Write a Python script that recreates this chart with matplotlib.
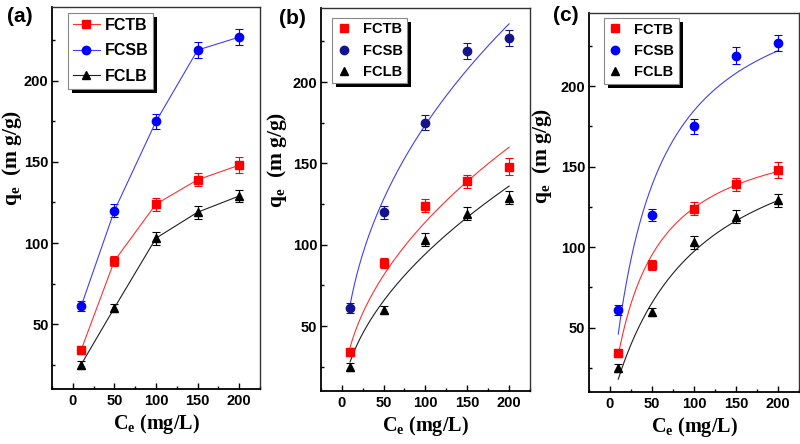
import numpy as np
import matplotlib
matplotlib.use("Agg")
import matplotlib.pyplot as plt
from matplotlib.patches import Rectangle
from matplotlib.transforms import IdentityTransform
from matplotlib.ticker import MultipleLocator

plt.rcParams['mathtext.fontset'] = 'custom'
plt.rcParams['mathtext.rm'] = 'Liberation Serif:bold'
plt.rcParams['mathtext.bf'] = 'Liberation Serif:bold'
plt.rcParams['mathtext.it'] = 'Liberation Serif:bold'

# ---- data ----
ce = [10, 50, 100, 150, 200]
series_names = ["FCTB", "FCSB", "FCLB"]
fctb = [34, 89, 124, 139, 148]
fcsb = [61, 120, 175, 219, 227]
fclb = [25, 60, 103, 119, 129]
fctb_err = [2.5, 3, 4, 4, 5]
fcsb_err = [3, 4, 4.5, 5, 5]
fclb_err = [2.5, 2.5, 4, 4, 4]

# Freundlich fit parameters (panel b): q = KF * C^(1/n)
freundlich_kf = [12.0, 22.8, 8.31]
freundlich_inv_n = [0.4888, 0.4409, 0.5276]
# Langmuir fit parameters (panel c): q = qm*KL*C/(1+KL*C)
langmuir_qm = [179.7, 278.0, 191.0]
langmuir_kl = [0.0225, 0.01983, 0.0104]

x_ticks = [0, 50, 100, 150, 200]
y_ticks = [50, 100, 150, 200]
panel_labels = ["(a)", "(b)", "(c)"]

values = [fctb, fcsb, fclb]
errors = [fctb_err, fcsb_err, fclb_err]
markers = ['s', 'o', '^']
msizes = [5.2, 6.0, 6.2]
mcolors_a = ['#ff0000', '#0000ff', '#000000']
mcolors_b = ['#ff0000', '#14148c', '#000000']
mcolors_c = ['#ff0000', '#0000ff', '#000000']
lcolors = ['#ff3030', '#4040ee', '#202020']

fig = plt.figure(figsize=(8, 4.44), dpi=100)
positions = [
    [0.065, 0.124, 0.260, 0.860],
    [0.401, 0.119, 0.2615, 0.863],
    [0.736, 0.117, 0.263, 0.854],
]
legend_anchor = [(0.077, 0.984), (0.053, 0.974), (0.071, 0.986)]
legend_fs = [11.5, 10.5, 10.5]
ylabel_coords = [(-0.19, 0.605), (-0.207, 0.603), (-0.222, 0.622)]
label_pos = [(0.025, 0.962), (0.365, 0.959), (0.707, 0.966)]

axes = []
legends = []
xfit = np.linspace(10, 200, 300)
for i in range(3):
    ax = fig.add_axes(positions[i])
    axes.append(ax)
    mcols = [mcolors_a, mcolors_b, mcolors_c][i]
    handles = []
    for j in range(3):
        ax.errorbar(ce, values[j], yerr=errors[j], fmt='none', ecolor=mcols[j],
                    elinewidth=0.8, capsize=3, capthick=0.8, zorder=3)
        if i == 0:
            h, = ax.plot(ce, values[j], marker=markers[j], color=lcolors[j],
                         mfc=mcols[j], mec=mcols[j], ms=msizes[j], lw=0.8,
                         label=series_names[j], zorder=4)
        else:
            h, = ax.plot(ce, values[j], marker=markers[j], ls='none',
                         mfc=mcols[j], mec=mcols[j], ms=msizes[j],
                         label=series_names[j], zorder=4)
            if i == 1:
                yfit = freundlich_kf[j] * xfit ** freundlich_inv_n[j]
            else:
                yfit = (langmuir_qm[j] * langmuir_kl[j] * xfit /
                        (1 + langmuir_kl[j] * xfit))
            ax.plot(xfit, yfit, color=lcolors[j], lw=0.8, zorder=2)
        handles.append(h)

    ax.set_xlim(-25, 225)
    ax.set_ylim(10, 245.5)
    ax.set_xticks(x_ticks)
    ax.set_yticks(y_ticks)
    ax.xaxis.set_minor_locator(MultipleLocator(25))
    ax.yaxis.set_minor_locator(MultipleLocator(25))
    ax.tick_params(which='both', direction='in', top=False, right=False)
    ax.tick_params(which='major', length=4, width=1)
    ax.tick_params(which='minor', length=2, width=1)
    ax.tick_params(axis='y', pad=2.5)
    for lab in ax.get_xticklabels() + ax.get_yticklabels():
        lab.set_fontfamily('Liberation Sans')
        lab.set_fontweight('bold')
        lab.set_fontsize(10.5)
    for s in ['left', 'bottom']:
        ax.spines[s].set_linewidth(1.3)
        ax.spines[s].set_color('black')
    for s in ['top', 'right']:
        ax.spines[s].set_linewidth(1.0)
        ax.spines[s].set_color('#333333')

    ax.set_xlabel(r'$\mathrm{C_e}$ (mg/L)', fontfamily='Liberation Serif',
                  fontweight='bold', fontsize=14.5, labelpad=3)
    ax.set_ylabel(r'$\mathrm{q_e}$  (m g/g)', fontfamily='Liberation Serif',
                  fontweight='bold', fontsize=15.5, va='center')
    ax.yaxis.set_label_coords(*ylabel_coords[i])

    leg = ax.legend(handles=handles, loc='upper left',
                    bbox_to_anchor=legend_anchor[i], borderaxespad=0,
                    frameon=True, fancybox=False, framealpha=1,
                    prop={'family': 'Liberation Sans', 'weight': 'bold',
                          'size': legend_fs[i]},
                    handlelength=1.7 if i == 0 else 1.0,
                    handletextpad=0.3 if i == 0 else 0.8,
                    labelspacing=0.65 if i == 0 else 0.5, borderpad=0.3)
    leg.get_frame().set_edgecolor('#888888')
    leg.get_frame().set_facecolor('white')
    leg.get_frame().set_linewidth(0.8)
    leg.set_zorder(6)
    legends.append(leg)

    fig.text(label_pos[i][0], label_pos[i][1], panel_labels[i],
             fontfamily='Liberation Sans', fontweight='bold', fontsize=15,
             ha='center', va='center')

fig.canvas.draw()
for ax, leg in zip(axes, legends):
    bb = leg.get_frame().get_window_extent()
    sh = Rectangle((bb.x0 + 4, bb.y0 - 4), bb.width, bb.height,
                   transform=IdentityTransform(), facecolor='black',
                   edgecolor='none', zorder=5.5)
    ax.add_patch(sh)

fig.savefig('out.png', dpi=100)
